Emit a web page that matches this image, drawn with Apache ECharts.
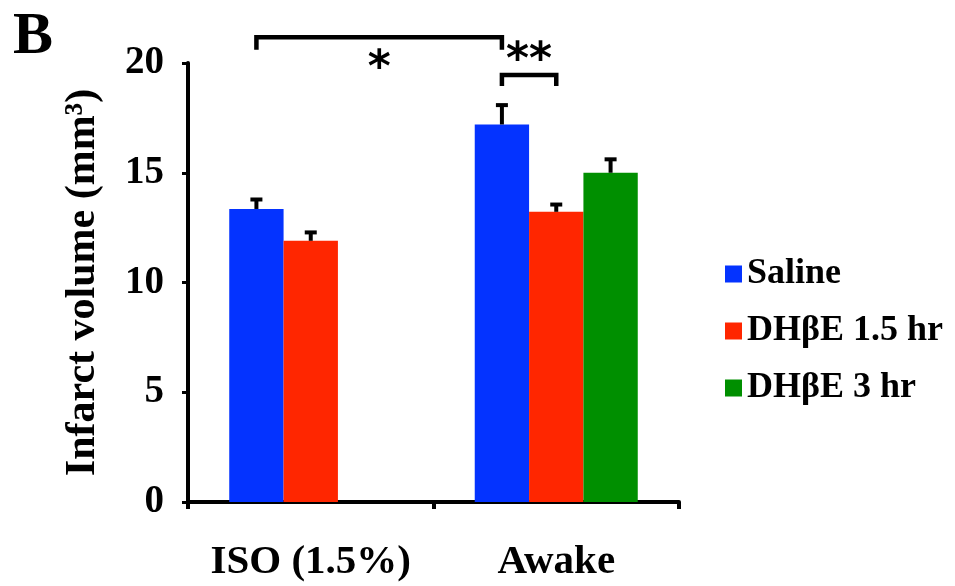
<!DOCTYPE html>
<html>
<head>
<meta charset="utf-8">
<script src="https://cdn.jsdelivr.net/npm/echarts@6/dist/echarts.min.js"></script>
<style>html,body{margin:0;padding:0;background:#fff;}#c{width:955px;height:586px;}</style>
</head>
<body>
<div id="c"></div>
<script>
const categories = ['ISO (1.5%)', 'Awake'];
const seriesNames = ['Saline', 'DH\u03b2E 1.5 hr', 'DH\u03b2E 3 hr'];
const saline = [13.35, 17.2];
const dhbe15 = [11.9, 13.22];
const dhbe3 = [null, 15.0];
const salineErr = [0.5, 0.95];
const dhbe15Err = [0.45, 0.4];
const dhbe3Err = [null, 0.68];
const yTicks = [0, 5, 10, 15, 20];
// significance brackets: [cat1, series1, cat2, series2, label]
const brackets = [
  [0, 0, 1, 0, '*'],
  [1, 0, 1, 1, '**']
];
const bracketLevels = [[21.17, 20.6, 19.72], [19.45, 18.95, 20.05]]; // [bar, leg end, label]

const colors = ['#0433ff', '#ff2600', '#008f00'];
const values = [saline, dhbe15, dhbe3];
const errs = [salineErr, dhbe15Err, dhbe3Err];
const GAP = 0.336;
const NS = 3;
const serif = '"Liberation Serif", "Times New Roman", serif';

function barX(api, cat, s) {
  const band = api.size([1, 0])[0];
  const bw = band * (1 - GAP) / NS;
  const c = api.coord([cat, 0])[0];
  return { x: c - bw * NS / 2 + bw * (s + 0.5), bw: bw };
}

const errData = [];
values.forEach((arr, s) => arr.forEach((v, i) => { if (v != null) errData.push([i, s, v, errs[s][i]]); }));

const chart = echarts.init(document.getElementById('c'), null, { renderer: 'canvas' });
chart.setOption({
  animation: false,
  title: { text: 'B', left: 8, top: 2, textStyle: { fontFamily: serif, fontWeight: 'bold', fontSize: 60, color: '#000' } },
  grid: { left: 188, right: 276, top: 63, bottom: 84, containLabel: false },
  legend: {
    data: seriesNames, orient: 'vertical', left: 720, top: 251,
    icon: 'rect', itemWidth: 17, itemHeight: 17, itemGap: 21,
    textStyle: { fontFamily: serif, fontWeight: 'bold', fontSize: 36, color: '#000' }
  },
  xAxis: {
    type: 'category', data: categories,
    axisLine: { lineStyle: { color: '#000', width: 4 } },
    axisTick: { show: true, alignWithLabel: false, interval: 0, length: 7, lineStyle: { color: '#000', width: 4 } },
    axisLabel: { interval: 0, hideOverlap: false, margin: 40, fontFamily: serif, fontWeight: 'bold', fontSize: 41, color: '#000' }
  },
  yAxis: {
    type: 'value', min: 0, max: 20, interval: 5,
    name: 'Infarct volume (mm\u00b3)', nameLocation: 'middle', nameGap: 84,
    nameTextStyle: { fontFamily: serif, fontWeight: 'bold', fontSize: 42, color: '#000' },
    axisLine: { show: true, lineStyle: { color: '#000', width: 4 } },
    axisTick: { show: true, length: 6, lineStyle: { color: '#000', width: 3 } },
    splitLine: { show: false },
    axisLabel: { margin: 24, fontFamily: serif, fontWeight: 'bold', fontSize: 39, color: '#000',
      formatter: v => yTicks.indexOf(v) >= 0 ? String(v) : '' }
  },
  series: [
    ...seriesNames.map((n, s) => ({
      name: n, type: 'bar', data: values[s], barGap: 0, barCategoryGap: (GAP * 100) + '%',
      itemStyle: { color: colors[s] }
    })),
    {
      type: 'custom', name: 'err', data: errData, z: 5, clip: false,
      renderItem: function (params, api) {
        const cat = api.value(0), s = api.value(1), v = api.value(2), e = api.value(3);
        const p = barX(api, cat, s);
        const yb = api.coord([cat, v])[1];
        const yt = api.coord([cat, v + e])[1];
        return { type: 'group', children: [
          { type: 'line', shape: { x1: p.x, y1: yb, x2: p.x, y2: yt + 1 }, style: { stroke: '#000', lineWidth: 4 } },
          { type: 'line', shape: { x1: p.x - 6, y1: yt + 1.5, x2: p.x + 6, y2: yt + 1.5 }, style: { stroke: '#000', lineWidth: 4 } }
        ] };
      }
    },
    {
      type: 'custom', name: 'sig', data: brackets.map((b, i) => [b[0], b[1], b[2], b[3], i]), z: 6, clip: false,
      renderItem: function (params, api) {
        const b = brackets[params.dataIndex];
        const lv = bracketLevels[params.dataIndex];
        const a = barX(api, b[0], b[1]);
        const c = barX(api, b[2], b[3]);
        const yb = api.coord([0, lv[0]])[1];
        const yl = api.coord([0, lv[1]])[1];
        const ylab = api.coord([0, lv[2]])[1];
        return { type: 'group', children: [
          { type: 'polyline', shape: { points: [[a.x, yl], [a.x, yb], [c.x, yb], [c.x, yl]] }, style: { stroke: '#000', lineWidth: 4.5, fill: null } },
          { type: 'text', style: { text: b[4], x: (a.x + c.x) / 2, y: ylab, align: 'center', verticalAlign: 'middle',
            font: 'bold 44px "DejaVu Sans", sans-serif', fill: '#000' } }
        ] };
      }
    }
  ]
});
</script>
</body>
</html>
